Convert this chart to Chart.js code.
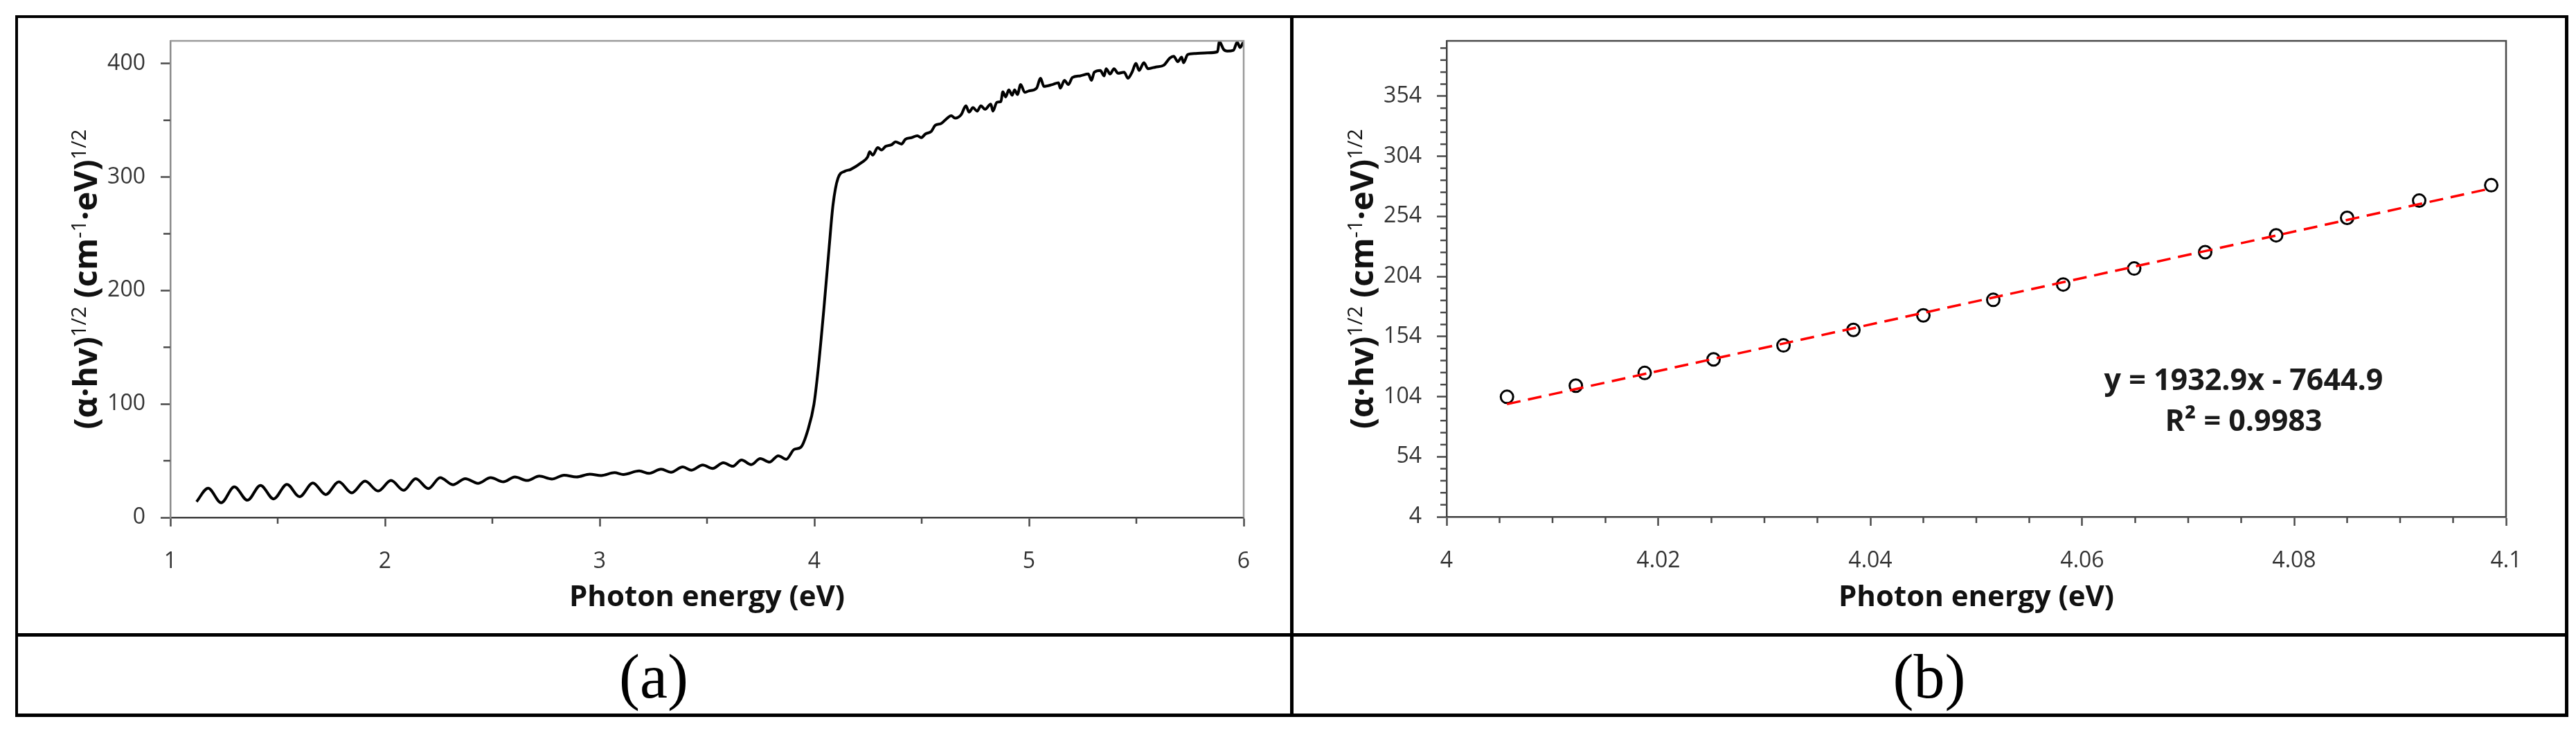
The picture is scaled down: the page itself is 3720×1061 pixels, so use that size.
<!DOCTYPE html>
<html><head><meta charset="utf-8">
<script src="https://cdn.jsdelivr.net/npm/chart.js@4.4.0/dist/chart.umd.min.js"></script>
<style>
html,body{margin:0;padding:0;background:#fff;}
body{width:3720px;height:1061px;position:relative;overflow:hidden;}
.ln{position:absolute;background:#000;z-index:5;}
canvas{position:absolute;top:0;}
.cap{position:absolute;font-family:"Liberation Serif","Times New Roman",serif;font-size:90px;line-height:90px;text-align:center;color:#000;width:400px;}
.eq{position:absolute;font-family:"Open Sans",sans-serif;font-weight:700;font-size:43px;line-height:43px;color:#1a1a1a;text-align:center;width:600px;white-space:nowrap;z-index:4;}
</style></head>
<body>
<canvas id="ca" width="1865" height="916" style="left:0px"></canvas>
<canvas id="cb" width="1855" height="916" style="left:1865px"></canvas>
<div class="ln" style="left:22px;top:22px;width:3687px;height:4px"></div>
<div class="ln" style="left:22px;top:22px;width:4px;height:1013px"></div>
<div class="ln" style="left:3704px;top:22px;width:5px;height:1013px"></div>
<div class="ln" style="left:22px;top:1030px;width:3687px;height:5px"></div>
<div class="ln" style="left:1863px;top:22px;width:5px;height:1013px"></div>
<div class="ln" style="left:22px;top:914px;width:3687px;height:5px"></div>
<div class="cap" style="left:744px;top:932px">(a)</div>
<div class="cap" style="left:2586px;top:932px">(b)</div>
<div class="eq" style="left:2940px;top:525px">y = 1932.9x - 7644.9</div>
<div class="eq" style="left:2940px;top:584px">R² = 0.9983</div>
<script>
// ---------- Panel (a) data ----------
const energyA = [1.122,1.176,1.237,1.298,1.359,1.420,1.481,1.543,1.602,1.664,1.724,1.785,1.845,1.907,1.968,2.028,2.087,2.143,2.202,2.257,2.316,2.374,2.433,2.492,2.551,2.605,2.662,2.719,2.777,2.834,2.892,2.954,3.007,3.069,
3.110,3.184,3.230,3.286,3.332,3.387,3.428,3.480,3.526,3.576,3.619,3.661,3.706,3.748,3.791,3.832,3.869,3.906,3.937,3.971,3.998,4.017,4.045,4.069,4.087,4.110,4.143,4.169,4.221,4.248,4.258,4.272,4.295,4.313,4.332,4.360,4.378,4.406,4.424,4.452,4.480,4.498,4.517,4.545,4.563,4.591,4.619,4.637,4.656,4.684,4.706,4.721,4.739,4.758,4.776,4.795,4.822,4.832,4.850,4.869,4.878,4.891,4.906,4.921,4.933,4.946,4.961,4.980,4.998,5.035,5.054,5.069,5.109,5.137,5.146,5.165,5.183,5.202,5.239,5.276,5.291,5.304,5.332,5.350,5.359,5.378,5.396,5.415,5.443,5.461,5.480,5.498,5.513,5.535,5.554,5.591,5.628,5.656,5.674,5.693,5.711,5.720,5.739,5.776,5.832,5.878,5.887,5.906,5.924,5.952,5.970,5.983,5.998];
const taucA = [13.9,25.8,13.0,27.0,15.2,28.3,16.4,29.2,18.3,30.4,20.2,31.4,21.7,32.0,23.3,32.6,23.9,34.2,25.5,35.1,28.9,34.2,30.1,35.1,31.4,35.7,32.6,36.4,33.9,37.3,35.7,38.2,37.0,39.5,
37.9,41.0,38.9,42.6,39.8,44.5,41.7,46.3,43.2,48.2,45.1,50.7,46.6,51.9,48.8,54.4,51.3,60.0,61.9,77.8,99.6,129.2,185.2,238.2,275.6,298.9,305.2,306.7,312.9,317.6,322.3,319.2,326.0,323.8,327.0,328.5,331.0,329.1,333.2,334.7,336.3,334.7,337.9,340.3,345.6,347.2,351.9,354.0,351.9,355.0,362.8,357.2,361.2,358.1,362.8,359.7,364.3,358.1,365.9,366.5,375.2,370.6,376.8,372.1,376.8,372.7,381.5,374.6,375.8,378.3,387.1,379.9,381.5,383.0,378.3,385.2,381.5,387.7,389.2,390.8,385.2,392.4,393.9,389.2,395.5,390.8,395.5,391.4,392.4,387.1,392.4,400.1,393.9,400.8,395.5,397.0,398.6,404.8,406.4,401.7,405.7,400.8,407.9,408.9,409.5,410.4,419.4,412.6,411.0,411.7,418.8,414.2,418.8];
const xTicksA = [1,2,3,4,5,6];
const xLabelsA = ['1','2','3','4','5','6'];
const xMinorA = [1.5,2.5,3.5,4.5,5.5];
const yTicksA = [0,100,200,300,400];
const yLabelsA = ['0','100','200','300','400'];
const yMinorA = [50,150,250,350];

// ---------- Panel (b) data ----------
const energyB = [4.0057,4.0122,4.0187,4.0252,4.0318,4.0384,4.0450,4.0516,4.0582,4.0649,4.0716,4.0783,4.0850,4.0918,4.0986];
const taucB = [103.8,113.1,123.7,135.0,146.6,159.5,171.6,184.5,197.3,210.6,224.2,238.2,252.7,267.1,279.9];
const fitSlope = 1932.9;
const fitIntercept = -7644.9;
const xTicksB = [4,4.02,4.04,4.06,4.08,4.1];
const xLabelsB = ['4','4.02','4.04','4.06','4.08','4.1'];
const xMinorB = [4.005,4.01,4.015,4.025,4.03,4.035,4.045,4.05,4.055,4.065,4.07,4.075,4.085,4.09,4.095];
const yTicksB = [4,54,104,154,204,254,304,354];
const yLabelsB = ['4','54','104','154','204','254','304','354'];
const yMinorB = [14,24,34,44,64,74,84,94,114,124,134,144,164,174,184,194,214,224,234,244,264,274,284,294,314,324,334,344,364,374,384,394];

const yTitleParts = [
  {t:'(α·hv)', sup:false},{t:'1/2', sup:true},{t:' (cm', sup:false},
  {t:'-1', sup:true},{t:'·eV)', sup:false},{t:'1/2', sup:true}
];

const deco = {
  id:'deco',
  afterDraw(chart, args, o){
    const {ctx, chartArea:a, scales} = chart;
    ctx.save();
    ctx.strokeStyle = o.frameColor; ctx.lineWidth = o.frameWidth;
    ctx.beginPath(); ctx.moveTo(a.left, a.top); ctx.lineTo(a.right, a.top); ctx.lineTo(a.right, a.bottom); ctx.stroke();
    ctx.strokeStyle = o.tickColor; ctx.lineWidth = 2.5;
    o.xMinor.forEach(v=>{const p=scales.x.getPixelForValue(v);ctx.beginPath();ctx.moveTo(p,a.bottom);ctx.lineTo(p,a.bottom+o.xMinorLen);ctx.stroke();});
    o.yMinor.forEach(v=>{const p=scales.y.getPixelForValue(v);ctx.beginPath();ctx.moveTo(a.left,p);ctx.lineTo(a.left-o.yMinorLen,p);ctx.stroke();});
    // y axis title with superscripts
    const mainFont = 'bold 47px "Open Sans"';
    const supFont = '29px "Open Sans"';
    ctx.fillStyle = '#111';
    ctx.textBaseline = 'alphabetic'; ctx.textAlign = 'left';
    let W = 0;
    const widths = yTitleParts.map(p=>{ctx.font = p.sup?supFont:mainFont; const w=ctx.measureText(p.t).width; W+=w; return w;});
    ctx.translate(a.left - o.titleOffset, (a.top+a.bottom)/2);
    ctx.rotate(-Math.PI/2);
    let x = -W/2;
    yTitleParts.forEach((p,i)=>{ctx.font = p.sup?supFont:mainFont; ctx.fillText(p.t, x, p.sup?-16:0); x+=widths[i];});
    ctx.restore();
  }
};

const tickFont = {family:'Open Sans', size:32};
const titleFont = {family:'Open Sans', size:42, weight:'bold'};

function makeScales(cfg){
  return {
    x:{type:'linear', min:cfg.xmin, max:cfg.xmax,
      afterBuildTicks:s=>{s.ticks = cfg.xTicks.map(v=>({value:v}));},
      ticks:{callback:(v,i)=>cfg.xLabels[i], font:tickFont, color:'#333', padding:32, maxRotation:0, autoSkip:false},
      grid:{drawOnChartArea:false, drawTicks:true, tickLength:13, tickColor:'#4a4a4a', tickWidth:2.5},
      border:{display:true, color:cfg.xAxisColor, width:2.5},
      title:{display:true, text:'Photon energy (eV)', font:titleFont, color:'#111', padding:{top:0,bottom:28}},
      afterFit:s=>{s.height = cfg.xh;}
    },
    y:{type:'linear', min:cfg.ymin, max:cfg.ymax,
      afterBuildTicks:s=>{s.ticks = cfg.yTicks.map(v=>({value:v}));},
      ticks:{callback:(v,i)=>cfg.yLabels[i], font:tickFont, color:'#333', padding:22, autoSkip:false},
      grid:{drawOnChartArea:false, drawTicks:true, tickLength:14, tickColor:'#4a4a4a', tickWidth:2.5},
      border:{display:true, color:cfg.yAxisColor, width:2.5},
      title:{display:false},
      afterFit:s=>{s.width = cfg.yw;}
    }
  };
}

new Chart(document.getElementById('ca'), {
  type:'scatter',
  data:{datasets:[{
    data: energyA.map((x,i)=>({x:x, y:taucA[i]})),
    showLine:true, borderColor:'#000', borderWidth:4, pointRadius:0,
    cubicInterpolationMode:'monotone', fill:false
  }]},
  options:{
    responsive:false, animation:false, devicePixelRatio:1,
    layout:{padding:{left:0,right:69,top:59,bottom:0}},
    plugins:{legend:{display:false}, tooltip:{enabled:false},
      deco:{frameColor:'#9a9a9a', frameWidth:2.5, tickColor:'#4a4a4a', xMinor:xMinorA, yMinor:yMinorA, xMinorLen:9, yMinorLen:10, titleOffset:106}},
    scales: makeScales({xmin:1,xmax:6,ymin:0,ymax:420,xTicks:xTicksA,xLabels:xLabelsA,yTicks:yTicksA,yLabels:yLabelsA,xh:169,yw:246,xAxisColor:'#404040',yAxisColor:'#8a8a8a'})
  },
  plugins:[deco]
});

const fitX = [energyB[0], energyB[energyB.length-1]];
new Chart(document.getElementById('cb'), {
  type:'scatter',
  data:{datasets:[
    {data: fitX.map(x=>({x:x, y:fitSlope*x+fitIntercept})), showLine:true, borderColor:'#ff0000', borderWidth:3.5, borderDash:[20,11], pointRadius:0, fill:false},
    {data: energyB.map((x,i)=>({x:x, y:taucB[i]})), showLine:false, pointStyle:'circle', pointRadius:9, pointBorderWidth:3, pointBorderColor:'#000', pointBackgroundColor:'rgba(255,255,255,0)', borderColor:'#000', backgroundColor:'rgba(255,255,255,0)'}
  ]},
  options:{
    responsive:false, animation:false, devicePixelRatio:1,
    layout:{padding:{left:0,right:101,top:59,bottom:0}},
    plugins:{legend:{display:false}, tooltip:{enabled:false},
      deco:{frameColor:'#4a4a4a', frameWidth:2.5, tickColor:'#4a4a4a', xMinor:xMinorB, yMinor:yMinorB, xMinorLen:9, yMinorLen:9, titleOffset:106}},
    scales: makeScales({xmin:4,xmax:4.1,ymin:4,ymax:400,xTicks:xTicksB,xLabels:xLabelsB,yTicks:yTicksB,yLabels:yLabelsB,xh:170,yw:224,xAxisColor:'#404040',yAxisColor:'#404040'})
  },
  plugins:[deco]
});
</script>
</body></html>
